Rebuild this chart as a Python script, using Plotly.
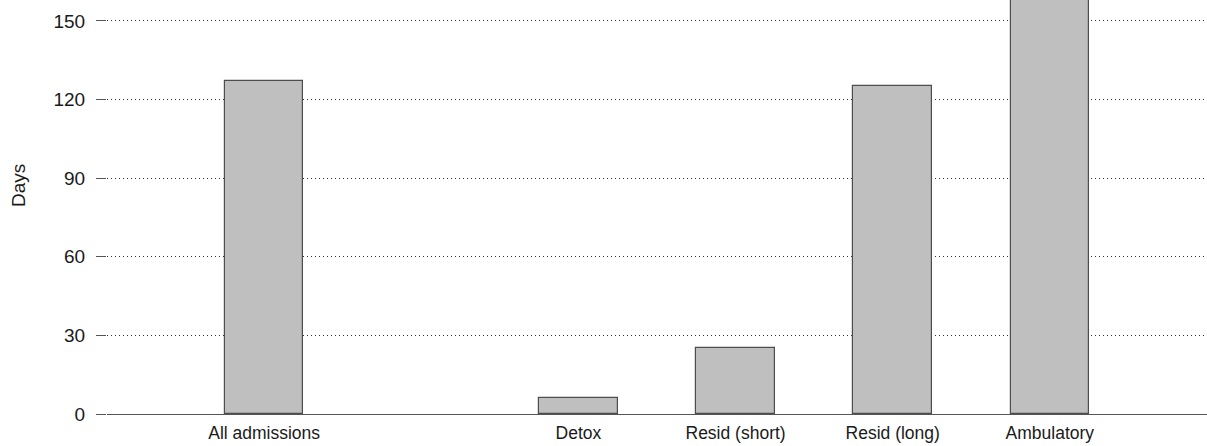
import plotly.graph_objects as go

categories = ["All admissions", "", "Detox", "Resid (short)", "Resid (long)", "Ambulatory"]
positions = [0, 1, 2, 3, 4, 5]
values = [127, None, 6, 25, 125, 175]
y_ticks = [0, 30, 60, 90, 120, 150]

bar_x = [p for p, v in zip(positions, values) if v is not None]
bar_y = [v for v in values if v is not None]

fig = go.Figure()
fig.add_trace(go.Bar(
    x=bar_x, y=bar_y, width=0.5,
    marker=dict(color="#bfbfbf", line=dict(color="#4d4d4d", width=1.2)),
    showlegend=False, hoverinfo="y",
))

fig.update_layout(
    width=1207, height=446,
    margin=dict(l=107, r=0, t=0, b=32),
    plot_bgcolor="white", paper_bgcolor="white",
    font=dict(family="Liberation Sans, Arial, sans-serif", size=18, color="#1a1a1a"),
    bargap=0,
)
fig.update_xaxes(
    range=[-1, 6], tickmode="array",
    tickvals=[p for p, c in zip(positions, categories) if c],
    ticktext=[c for c in categories if c],
    showgrid=False, zeroline=False, showline=False, ticks="",
    tickfont=dict(size=17.5), ticklabelstandoff=6,
)
fig.update_yaxes(
    range=[0, 158], tickmode="array", tickvals=y_ticks,
    ticktext=[str(t) for t in y_ticks],
    showgrid=True, gridcolor="#333", griddash="1px,3px", gridwidth=1,
    zeroline=True, zerolinecolor="#555", zerolinewidth=1.2,
    ticks="outside", ticklen=10, tickcolor="#555", tickwidth=1.2,
    showline=False, tickfont=dict(size=19), ticklabelstandoff=7,
)
fig.add_annotation(
    text="Days", textangle=-90, showarrow=False,
    xref="paper", yref="paper", x=-0.081, y=0.553,
    xanchor="center", yanchor="middle", font=dict(size=19),
)

fig.write_html("out.html", config={"displayModeBar": False},
               post_script="document.body.style.margin='0';")
